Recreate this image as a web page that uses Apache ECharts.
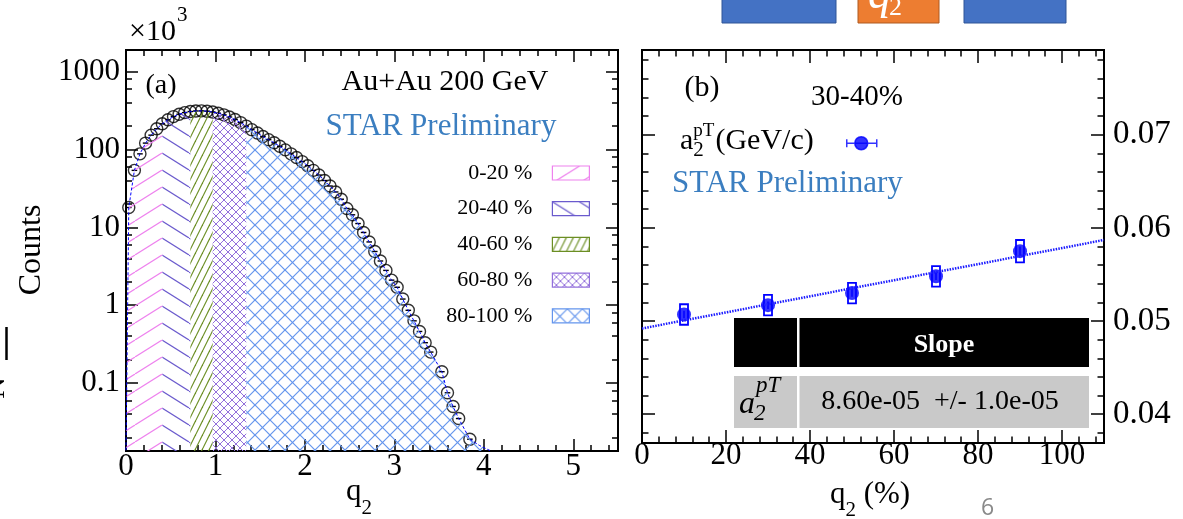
<!DOCTYPE html>
<html>
<head>
<meta charset="utf-8">
<script src="https://cdn.jsdelivr.net/npm/echarts@6/dist/echarts.min.js"></script>
<style>
html, body { margin: 0; padding: 0; background: #fff; }
#c { width: 1183px; height: 519px; }
</style>
</head>
<body>
<div id="c"></div>
<script>
// ---- panel (a): q2 distribution, counts in units of 10^3 ----
var q2Bins = [0.031, 0.094, 0.156, 0.219, 0.281, 0.344, 0.406, 0.469, 0.531, 0.594,
  0.656, 0.719, 0.781, 0.844, 0.906, 0.969, 1.031, 1.094, 1.156, 1.219,
  1.281, 1.344, 1.406, 1.469, 1.531, 1.594, 1.656, 1.719, 1.781, 1.844,
  1.906, 1.969, 2.031, 2.094, 2.156, 2.219, 2.281, 2.344, 2.406, 2.469,
  2.531, 2.594, 2.656, 2.719, 2.781, 2.844, 2.906, 2.969, 3.031, 3.094,
  3.156, 3.219, 3.281, 3.344, 3.406, 3.531, 3.594, 3.656, 3.719, 3.844]
var countsK = [18, 54, 88, 121, 153, 185, 214, 241, 265, 284,
  298, 308, 313, 314, 311, 304, 293, 279, 262, 243,
  222, 200, 180, 163, 147, 134, 122, 110, 99, 88,
  79, 70, 62, 54, 47, 40, 34, 28.5, 23, 17.5,
  14.5, 11.2, 8.6, 6.5, 4.9, 3.7, 2.8, 2.1, 1.7, 1.2,
  0.86, 0.63, 0.46, 0.33, 0.25, 0.14, 0.075, 0.05, 0.035, 0.019]
var q2HalfBin = 0.03125
// fit curve ends (beyond the measured points)
var fitHeadQ = [0]
var fitHeadCounts = [0.0137]
var fitTailQ = [3.95, 4.08]
var fitTailCounts = [0.0158, 0.0134]
// centrality regions of q2
var regionNames = ['0-20 %', '20-40 %', '40-60 %', '60-80 %', '80-100 %']
var regionEdges = [0, 0.406, 0.719, 0.969, 1.344, 4.08]
var yMajorCounts = [0.1, 1, 10, 100, 1000]
var yMajorLabels = ['0.1', '1', '10', '100', '1000']
var xMajorA = [0, 1, 2, 3, 4, 5]

// ---- panel (b): a2 vs q2 percentile ----
var q2Pct = [10, 30, 50, 70, 90]
var a2 = [0.0507, 0.0517, 0.0530, 0.0548, 0.0575]
var a2Sys = [0.0011, 0.0011, 0.0011, 0.0011, 0.0012]
var a2Stat = [0.0004, 0.0004, 0.0004, 0.0004, 0.0005]
var fitPct = [0, 110]
var fitA2 = [0.0492, 0.0587]
var xMajorB = [0, 20, 40, 60, 80, 100]
var yMajorB = [0.04, 0.05, 0.06, 0.07]

var SERIF = '"Liberation Serif", "DejaVu Serif", serif'
var lg = Math.log10

// hatch patterns
function hatch(kind, w, h, color, lw) {
	var cv = document.createElement('canvas')
	cv.width = w
	cv.height = h
	var g = cv.getContext('2d')
	g.strokeStyle = color
	g.lineWidth = lw
	function seg(x1, y1, x2, y2) {
		g.beginPath(); g.moveTo(x1, y1); g.lineTo(x2, y2); g.stroke()
	}
	for (var s = -1; s <= 1; s++) {
		if (kind === 'fwd' || kind === 'cross') seg(s * w, h, s * w + w, 0)
		if (kind === 'back' || kind === 'cross') seg(s * w, 0, s * w + w, h)
	}
	return { image: cv, repeat: 'repeat' }
}
var regionColors = ['#ee82ee', '#6a5acd', '#6b8e23', '#9370db', '#6495ed']
var regionFills = [
	hatch('fwd', 27, 17, regionColors[0], 1.2),
	hatch('back', 27, 17, regionColors[1], 1.2),
	hatch('fwd', 7, 14, regionColors[2], 1.2),
	hatch('cross', 8, 8, regionColors[3], 1),
	hatch('cross', 15, 15, regionColors[4], 1.2)
]

// axes (ticks inside, on all four sides, ROOT style)
var xAxes = [], yAxes = []
function tickAxis(list, grid, pos, range, vals, len, label) {
	var ax = {
		type: 'value', gridIndex: grid, position: pos, min: range[0], max: range[1],
		axisLine: { show: false, onZero: false },
		splitLine: { show: false },
		axisTick: { show: true, inside: true, length: len, customValues: vals, lineStyle: { color: '#000', width: 1.5 } },
		axisLabel: { show: false }
	}
	if (label) {
		ax.axisLabel = Object.assign({ show: true, customValues: vals, color: '#000', fontFamily: SERIF, fontSize: 31 }, label)
	}
	list.push(ax)
	return list.length - 1
}
function steps(a, b, d) {
	var out = []
	for (var v = a; v <= b + d / 1000; v += d) out.push(+v.toFixed(4))
	return out
}

var xRangeA = [0, 5.5]
var yRangeA = [lg(0.0134), lg(1900)]
var yMajorA = yMajorCounts.map(lg)
var yMinorA = []
for (var n = -2; n <= 3; n++) {
	[2, 4, 6, 8].forEach(function(k) {
		var v = lg(k * Math.pow(10, n))
		if (v > yRangeA[0] && v < yRangeA[1]) yMinorA.push(v)
	})
}
var xMinorA = steps(0, 5.4, 0.2)

var xA = tickAxis(xAxes, 0, 'bottom', xRangeA, xMajorA, 12, { margin: 0, formatter: function(v) { return String(v) } })
tickAxis(xAxes, 0, 'bottom', xRangeA, xMinorA, 6)
tickAxis(xAxes, 0, 'top', xRangeA, xMajorA, 12)
tickAxis(xAxes, 0, 'top', xRangeA, xMinorA, 6)
var yA = tickAxis(yAxes, 0, 'left', yRangeA, yMajorA, 12, {
	margin: 6, formatter: function(v) { return yMajorLabels[yMajorA.indexOf(v)] }
})
tickAxis(yAxes, 0, 'left', yRangeA, yMinorA, 6)
tickAxis(yAxes, 0, 'right', yRangeA, yMajorA, 12)
tickAxis(yAxes, 0, 'right', yRangeA, yMinorA, 6)

var xRangeB = [0, 110]
var yRangeB = [0.0369, 0.0791]
var xMinorB = steps(0, 108, 4)
var yMinorB = steps(0.038, 0.078, 0.002)
var xB = tickAxis(xAxes, 1, 'bottom', xRangeB, xMajorB, 13, { margin: -2.5, formatter: function(v) { return String(v) } })
tickAxis(xAxes, 1, 'bottom', xRangeB, xMinorB, 6.5)
tickAxis(xAxes, 1, 'top', xRangeB, xMajorB, 13)
tickAxis(xAxes, 1, 'top', xRangeB, xMinorB, 6.5)
var yB = tickAxis(yAxes, 1, 'left', yRangeB, yMajorB, 13)
tickAxis(yAxes, 1, 'left', yRangeB, yMinorB, 6.5)
tickAxis(yAxes, 1, 'right', yRangeB, yMajorB, 13, { margin: 9, fontSize: 33, formatter: function(v) { return v.toFixed(2) } })
tickAxis(yAxes, 1, 'right', yRangeB, yMinorB, 6.5)

// fit curve in log space
var fitQ = fitHeadQ.concat(q2Bins, fitTailQ)
var fitC = fitHeadCounts.concat(countsK, fitTailCounts)
var fitData = fitQ.map(function(q, i) { return [q, lg(fitC[i])] })
var pointData = q2Bins.map(function(q, i) { return [q, lg(countsK[i])] })

var series = []
regionNames.forEach(function(name, r) {
	series.push({
		name: name, type: 'line', xAxisIndex: xA, yAxisIndex: yA,
		data: fitData.filter(function(p) { return p[0] >= regionEdges[r] && p[0] <= regionEdges[r + 1] }),
		symbol: 'none', silent: true,
		lineStyle: { width: 0, opacity: 0 },
		itemStyle: { color: regionColors[r] },
		areaStyle: { color: regionFills[r], opacity: 1, origin: 'start' }
	})
})
series.push({
	type: 'line', xAxisIndex: xA, yAxisIndex: yA, data: fitData, symbol: 'none', silent: true,
	lineStyle: { color: '#0000ff', width: 1, type: [3, 2] }
})
series.push({
	type: 'custom', xAxisIndex: xA, yAxisIndex: yA, data: pointData, silent: true,
	renderItem: function(params, api) {
		var p = api.coord([api.value(0), api.value(1)])
		var hw = api.size([q2HalfBin, 0])[0]
		return { type: 'line', shape: { x1: p[0] - hw, y1: p[1], x2: p[0] + hw, y2: p[1] }, style: { stroke: '#000', lineWidth: 1.4 } }
	}
})
series.push({
	type: 'scatter', xAxisIndex: xA, yAxisIndex: yA, data: pointData, silent: true,
	symbol: 'circle', symbolSize: 12,
	itemStyle: { color: 'rgba(0,0,0,0)', borderColor: '#000', borderWidth: 1.4 }
})

// panel (b)
series.push({
	type: 'line', xAxisIndex: xB, yAxisIndex: yB, silent: true, symbol: 'none',
	data: fitPct.map(function(x, i) { return [x, fitA2[i]] }),
	lineStyle: { color: '#1a1aff', width: 2.5, type: [1.5, 1.2] }
})
series.push({
	type: 'custom', xAxisIndex: xB, yAxisIndex: yB, silent: true,
	data: q2Pct.map(function(x, i) { return [x, a2[i], a2Sys[i], a2Stat[i]] }),
	renderItem: function(params, api) {
		var x = api.value(0), y = api.value(1), s = api.value(2), st = api.value(3)
		var top = api.coord([x, y + s]), bot = api.coord([x, y - s])
		var t2 = api.coord([x, y + st]), b2 = api.coord([x, y - st])
		return { type: 'group', children: [
			{ type: 'rect', shape: { x: top[0] - 4, y: top[1], width: 8, height: bot[1] - top[1] }, style: { fill: '#fff', stroke: '#0000ff', lineWidth: 1.8 } },
			{ type: 'line', shape: { x1: t2[0], y1: t2[1], x2: b2[0], y2: b2[1] }, style: { stroke: '#0000ff', lineWidth: 1.5 } }
		] }
	}
})
series.push({
	name: 'a2', type: 'scatter', xAxisIndex: xB, yAxisIndex: yB, silent: true,
	data: q2Pct.map(function(x, i) { return [x, a2[i]] }),
	symbol: 'circle', symbolSize: 14, itemStyle: { color: '#0000ff' }
})

// text helpers
var mctx = document.createElement('canvas').getContext('2d')
function tw(s, size, style) {
	mctx.font = (style || '') + ' ' + size + 'px ' + SERIF
	return mctx.measureText(s).width
}
function txt(x, y, s, size, o) {
	o = o || {}
	return {
		type: 'text', x: x, y: y, rotation: o.rot || 0, silent: true, z: 100,
		style: {
			text: s, fontSize: size, fontFamily: o.fam || SERIF,
			fontStyle: o.it ? 'italic' : 'normal', fontWeight: o.bold ? 'bold' : 'normal',
			fill: o.fill || '#000', align: o.align || 'left', verticalAlign: o.va || 'middle'
		}
	}
}
function box(x, y, w, h, fill, stroke) {
	return { type: 'rect', silent: true, z: 90, shape: { x: x, y: y, width: w, height: h }, style: { fill: fill, stroke: stroke || null, lineWidth: 1 } }
}

var g = []
// panel (a) texts
g.push(txt(161, 86, '(a)', 28, { align: 'center' }))
g.push(txt(445, 82, 'Au+Au 200 GeV', 30, { align: 'center' }))
g.push(txt(441, 127, 'STAR Preliminary', 31, { align: 'center', fill: '#3b7ec0' }))
g.push(txt(129, 32, '\u00d710', 30))
g.push(txt(129 + tw('\u00d710', 30) + 1, 15, '3', 21))
g.push(txt(32, 250, 'Counts', 32, { align: 'center', rot: Math.PI / 2 }))
var wq = tw('q', 31), w2 = tw('2', 21)
g.push(txt(359 - (wq + w2) / 2, 492, 'q', 31))
g.push(txt(359 - (wq + w2) / 2 + wq, 508, '2', 21))
// remnants of a cut label at the left edge
g.push({ type: 'line', silent: true, shape: { x1: 6.5, y1: 327, x2: 6.5, y2: 360 }, style: { stroke: '#000', lineWidth: 2.5 } })
g.push(txt(-4, 388, 'N', 30, { align: 'center', rot: Math.PI / 2 }))

// panel (b) texts
g.push(txt(702, 88, '(b)', 30, { align: 'center' }))
g.push(txt(857, 97, '30-40%', 29, { align: 'center' }))
var wa = tw('a', 30)
g.push(txt(680, 141, 'a', 30))
g.push(txt(680 + wa, 131, 'pT', 19))
g.push(txt(680 + wa, 150, '2', 21))
g.push(txt(680 + wa + tw('pT', 19) + 1, 141, '(GeV/c)', 30))
g.push(txt(672, 184, 'STAR Preliminary', 31, { fill: '#3b7ec0' }))
var wq2 = tw('q', 31), w22 = tw('2', 21), wp = tw(' (%)', 31)
var q2x = 870 - (wq2 + w22 + wp) / 2
g.push(txt(q2x, 495, 'q', 31))
g.push(txt(q2x + wq2, 510, '2', 21))
g.push(txt(q2x + wq2 + w22, 495, ' (%)', 31))

// fit result table
g.push(box(734, 318, 63, 49, '#000'))
g.push(box(799.5, 318, 289.5, 49, '#000'))
g.push(box(734, 376, 63, 52, '#c9c9c9'))
g.push(box(799.5, 376, 289.5, 52, '#c9c9c9'))
g.push(txt(944, 345, 'Slope', 26, { align: 'center', bold: true, fill: '#fff' }))
g.push(txt(940, 402, '8.60e-05  +/- 1.0e-05', 28, { align: 'center' }))
var wai = tw('a', 32, 'italic')
g.push(txt(739, 405, 'a', 32, { it: true }))
g.push(txt(739 + wai + 1, 386, 'pT', 23, { it: true }))
g.push(txt(739 + wai - 1, 414, '2', 23, { it: true }))

// slide decorations
g.push(box(722, -2, 114, 25, '#4472c4', '#2f5597'))
g.push(box(858, -2, 81, 25, '#ed7d31', '#ae5a21'))
g.push(box(964, -2, 102, 25, '#4472c4', '#2f5597'))
g.push(txt(868, 19, 'q', 46, { it: true, fill: '#fff', va: 'bottom' }))
g.push(txt(866 + tw('q', 46, 'italic'), 21, '2', 26, { fill: '#fff', va: 'bottom' }))
g.push(txt(987.5, 508, '6', 23, { align: 'center', fam: '"Open Sans", sans-serif', fill: '#898989' }))

var myChart = echarts.init(document.getElementById('c'))
var option = {
	animation: false,
	backgroundColor: '#fff',
	grid: [
		{ left: 126, top: 50, width: 492, height: 401, show: true, borderColor: '#000', borderWidth: 2, outerBoundsMode: 'none' },
		{ left: 642, top: 50, width: 462, height: 393, show: true, borderColor: '#000', borderWidth: 2, outerBoundsMode: 'none' }
	],
	xAxis: xAxes,
	yAxis: yAxes,
	legend: [
		{
			orient: 'vertical', right: 588, top: 157, align: 'right',
			itemWidth: 37, itemHeight: 14, itemGap: 13.7, selectedMode: false,
			textStyle: { fontFamily: SERIF, fontSize: 22, color: '#000', lineHeight: 14, padding: [0, 15, 0, 0] },
			data: regionNames.map(function(name, r) {
				return { name: name, icon: 'rect', itemStyle: { color: regionFills[r], borderColor: regionColors[r], borderWidth: 1.2 } }
			})
		},
		{
			left: 841, top: 131, itemWidth: 30, itemHeight: 13, selectedMode: false,
			formatter: function() { return '' },
			data: [{
				name: 'a2',
				icon: 'path://M0,2.5L0,10.5M0,6.5L30,6.5M30,2.5L30,10.5M21,6.5A6.5,6.5,0,1,1,8,6.5A6.5,6.5,0,1,1,21,6.5Z',
				itemStyle: { color: '#0000ff', borderColor: '#0000ff', borderWidth: 1.5 }
			}]
		}
	],
	graphic: g,
	series: series
}
myChart.setOption(option)
</script>
</body>
</html>
